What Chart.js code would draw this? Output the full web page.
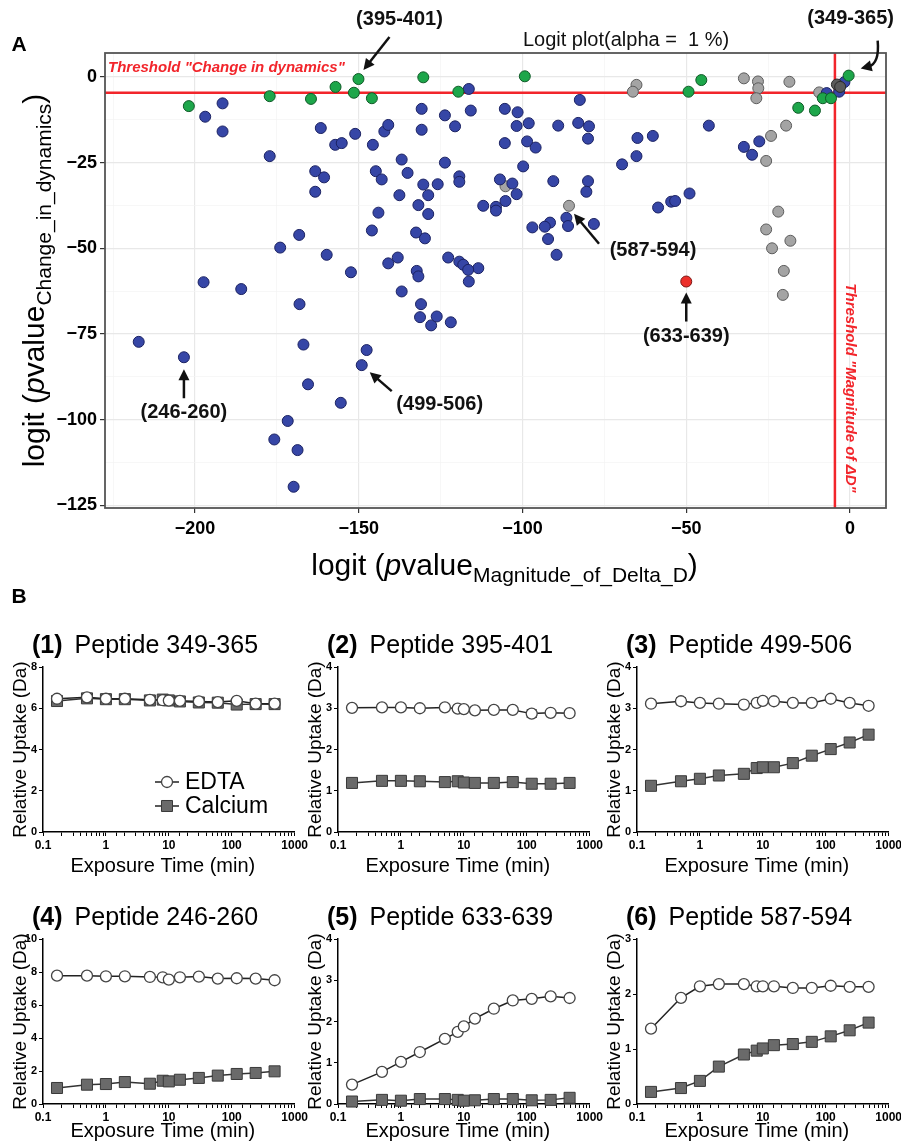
<!DOCTYPE html>
<html>
<head>
<meta charset="utf-8">
<script src="https://cdn.jsdelivr.net/npm/chart.js"></script>
<style>
  html, body { margin: 0; padding: 0; background: #fff; }
  #wrap { position: relative; width: 901px; height: 1144px; overflow: hidden; }
  canvas { position: absolute; }
</style>
</head>
<body>
<div id="wrap">
  <canvas id="logit" width="901" height="615" style="left:0;top:0;width:901px;height:615px"></canvas>
  <canvas id="p1" width="310" height="255" style="left:0;top:625px;width:310px;height:255px"></canvas>
  <canvas id="p2" width="310" height="255" style="left:295px;top:625px;width:310px;height:255px"></canvas>
  <canvas id="p3" width="310" height="255" style="left:594px;top:625px;width:310px;height:255px"></canvas>
  <canvas id="p4" width="310" height="247" style="left:0;top:897px;width:310px;height:247px"></canvas>
  <canvas id="p5" width="310" height="247" style="left:295px;top:897px;width:310px;height:247px"></canvas>
  <canvas id="p6" width="310" height="247" style="left:594px;top:897px;width:310px;height:247px"></canvas>
</div>
<script>
// ---- panel A: logit plot, [logit p magnitude, logit p dynamics] per peptide ----
const THRESHOLD = -4.6; // logit(0.01)

const grayPoints = [
  [-65.2, -2.3], [-66.3, -4.3], [-105.2, -31.9], [-85.8, -37.6], [-32.4, -0.4], [-28.1, -1.3],
  [-28.0, -3.3], [-28.6, -6.2], [-18.5, -1.4], [-9.4, -4.5], [-19.5, -14.2], [-24.1, -17.2],
  [-25.6, -24.5], [-21.9, -39.3], [-25.6, -44.5], [-18.2, -47.8], [-23.8, -50.0], [-20.2, -56.6],
  [-20.5, -63.6]
];
const darkPoints = [[-4.0, -2.2], [-3.0, -2.9]];
const greenPoints = [
  [-201.9, -8.5], [-177.2, -5.6], [-164.6, -6.4], [-157.1, -2.9], [-150.1, -0.6], [-151.5, -4.6],
  [-146.0, -6.2], [-130.3, -0.1], [-119.6, -4.3], [-99.3, 0.2], [-45.4, -0.9], [-49.3, -4.3],
  [-15.8, -9.0], [-10.7, -9.8], [-8.3, -6.2], [-5.8, -6.2], [-0.4, 0.4]
];
const redPoints = [[-50.0, -59.7]];
const bluePoints = [
  [-196.9, -11.6], [-191.6, -7.7], [-191.6, -15.9], [-177.2, -23.1], [-161.6, -14.9], [-163.3, -27.5],
  [-160.6, -29.3], [-163.3, -33.5], [-157.2, -19.8], [-155.2, -19.3], [-151.1, -16.6], [-145.7, -19.8],
  [-144.8, -27.5], [-143.0, -29.9], [-144.0, -39.6], [-146.0, -44.8], [-142.2, -15.9], [-141.0, -14.0],
  [-174.0, -49.8], [-168.2, -46.1], [-159.8, -51.9], [-152.4, -57.0], [-141.0, -54.4], [-197.4, -59.9],
  [-185.9, -61.9], [-217.2, -77.3], [-203.4, -81.8], [-168.1, -66.3], [-166.9, -78.1], [-165.5, -89.7],
  [-171.7, -100.4], [-175.8, -105.8], [-168.7, -108.9], [-169.9, -119.6], [-155.5, -95.1], [-147.6, -79.7],
  [-149.1, -84.1],
  [-116.4, -3.5], [-82.5, -6.7], [-130.8, -9.3], [-130.8, -15.4], [-123.7, -11.2], [-120.6, -14.4],
  [-115.8, -9.8], [-105.4, -9.3], [-101.5, -10.3], [-101.8, -14.3], [-98.1, -13.5], [-105.4, -19.3],
  [-98.6, -18.8], [-96.0, -20.6], [-89.1, -14.2], [-83.0, -13.4], [-79.7, -14.4], [-80.0, -18.0],
  [-64.9, -17.8], [-60.2, -17.2], [-65.2, -23.1], [-69.6, -25.5], [-136.9, -24.1], [-135.1, -28.0],
  [-123.7, -25.0], [-137.6, -34.5], [-130.3, -31.4], [-125.9, -31.3], [-128.8, -34.5], [-119.3, -29.0],
  [-119.3, -30.6], [-131.8, -37.4], [-128.8, -40.0], [-106.9, -29.9], [-103.1, -31.1], [-101.8, -34.2],
  [-105.2, -36.2], [-108.1, -37.9], [-112.0, -37.6], [-108.1, -39.0], [-99.8, -26.1], [-90.6, -30.4],
  [-80.0, -30.4], [-80.5, -33.5], [-86.6, -41.1], [-86.1, -43.5], [-78.2, -42.9], [-91.6, -42.5],
  [-93.2, -43.7], [-97.0, -43.9], [-92.2, -47.3], [-89.6, -51.9], [-132.5, -45.4], [-129.8, -47.1],
  [-58.6, -38.1], [-54.6, -36.4], [-53.4, -36.2], [-138.1, -52.7], [-122.7, -52.7], [-119.3, -53.9],
  [-118.1, -54.8], [-113.5, -55.8], [-116.6, -56.3], [-132.3, -56.6], [-131.8, -58.2],
  [-116.4, -59.7], [-136.9, -62.6], [-131.0, -66.3], [-131.3, -70.1], [-127.9, -72.5], [-126.2, -69.9],
  [-121.9, -71.6],
  [-49.0, -34.0], [-43.1, -14.2], [-27.7, -18.8], [-32.4, -20.4], [-29.9, -22.7], [-7.1, -4.7],
  [-3.3, -4.3], [-1.7, -1.5]
];

// labelled peptides: anchor point in data units, arrow / label offsets in px
const callouts = [
  { text: '(395-401)', at: [-150.1, -0.6], head: [5, -9], tail: [31, -42], label: [41, -60] },
  { text: '(349-365)', at: [-0.4, 0.4], head: [12, -7], tail: [29, -35], bend: [31, -12], label: [2, -57] },
  { text: '(587-594)', at: [-85.8, -37.6], head: [5, 8], tail: [30, 38], label: [84, 45] },
  { text: '(633-639)', at: [-50.0, -59.7], head: [0, 11], tail: [0, 40], label: [0, 55] },
  { text: '(246-260)', at: [-203.4, -81.8], head: [0, 12], tail: [0, 41], label: [0, 55] },
  { text: '(499-506)', at: [-149.1, -84.1], head: [8, 7], tail: [30, 26], label: [78, 39] }
];

// ---- panel B: deuterium uptake curves ----
const TIMES = [0.167, 0.5, 1, 2, 5, 8, 10, 15, 30, 60, 120, 240, 480];

const edta349 = [6.46, 6.53, 6.46, 6.46, 6.41, 6.39, 6.37, 6.36, 6.33, 6.30, 6.36, 6.22, 6.22];
const calcium349 = [6.35, 6.48, 6.44, 6.44, 6.38, 6.42, 6.38, 6.33, 6.28, 6.27, 6.18, 6.20, 6.20];
const edta395 = [3.01, 3.02, 3.02, 3.00, 3.02, 2.99, 2.98, 2.95, 2.96, 2.96, 2.87, 2.89, 2.88];
const calcium395 = [1.19, 1.24, 1.24, 1.23, 1.21, 1.23, 1.20, 1.19, 1.19, 1.21, 1.17, 1.17, 1.19];
const edta499 = [3.11, 3.17, 3.13, 3.11, 3.09, 3.13, 3.18, 3.17, 3.13, 3.13, 3.23, 3.13, 3.06];
const calcium499 = [1.12, 1.23, 1.29, 1.37, 1.41, 1.55, 1.57, 1.57, 1.67, 1.85, 2.01, 2.17, 2.36];
const edta246 = [7.78, 7.78, 7.74, 7.74, 7.70, 7.68, 7.54, 7.68, 7.72, 7.60, 7.62, 7.60, 7.50];
const calcium246 = [0.97, 1.17, 1.21, 1.33, 1.23, 1.41, 1.37, 1.47, 1.58, 1.72, 1.82, 1.88, 1.98];
const edta633 = [0.47, 0.78, 1.02, 1.26, 1.58, 1.75, 1.88, 2.07, 2.31, 2.51, 2.55, 2.61, 2.57];
const calcium633 = [0.06, 0.10, 0.08, 0.12, 0.12, 0.10, 0.08, 0.09, 0.12, 0.12, 0.09, 0.10, 0.15];
const edta587 = [1.37, 1.93, 2.14, 2.18, 2.18, 2.14, 2.14, 2.14, 2.11, 2.11, 2.15, 2.13, 2.13];
const calcium587 = [0.22, 0.29, 0.42, 0.68, 0.90, 0.97, 1.01, 1.07, 1.09, 1.13, 1.23, 1.34, 1.48];

// visible EDTA error bars (half width, Da), 0 = hidden behind marker
const edtaErr395 = [0, 0, 0, 0, 0, 0, 0, 0, 0, 0, 0.09, 0, 0];
const edtaErr499 = [0, 0.08, 0, 0, 0, 0, 0, 0, 0, 0, 0, 0, 0.07];

const FONT = "'Liberation Sans', Arial, Helvetica, sans-serif";
Chart.defaults.font.family = FONT;
Chart.defaults.color = '#000';
Chart.defaults.animation = false;

const RED = '#f2252b';

function pts(arr) {
  return arr.map(p => ({ x: p[0], y: p[1] }));
}

function minus(v) {
  return v < 0 ? '\u2212' + Math.abs(v) : String(v);
}

// draws a run of text pieces with their own font / baseline shift, centred on x
function drawRich(ctx, parts, x, y) {
  let total = 0;
  parts.forEach(p => { ctx.font = p.font; total += ctx.measureText(p.t).width; });
  let cx = x - total / 2;
  ctx.textAlign = 'left';
  ctx.textBaseline = 'alphabetic';
  parts.forEach(p => {
    ctx.font = p.font;
    ctx.fillText(p.t, cx, y + (p.dy || 0));
    cx += ctx.measureText(p.t).width;
  });
}

function drawArrow(ctx, tx, ty, hx, hy, bend) {
  let dx, dy;
  if (bend) { dx = hx - bend[0]; dy = hy - bend[1]; } else { dx = hx - tx; dy = hy - ty; }
  const ang = Math.atan2(dy, dx), L = 11, W = 5.5;
  const ex = hx - 8 * Math.cos(ang), ey = hy - 8 * Math.sin(ang);
  ctx.beginPath();
  ctx.moveTo(tx, ty);
  if (bend) ctx.quadraticCurveTo(bend[0], bend[1], ex, ey); else ctx.lineTo(ex, ey);
  ctx.stroke();
  ctx.beginPath();
  ctx.moveTo(hx, hy);
  ctx.lineTo(hx - L * Math.cos(ang) + W * Math.sin(ang), hy - L * Math.sin(ang) - W * Math.cos(ang));
  ctx.lineTo(hx - L * Math.cos(ang) - W * Math.sin(ang), hy - L * Math.sin(ang) + W * Math.cos(ang));
  ctx.closePath();
  ctx.fill();
}

const logitDecor = {
  id: 'logitDecor',
  afterDatasetsDraw(chart) {
    const { ctx, chartArea: a } = chart;
    ctx.save();
    ctx.strokeStyle = '#555';
    ctx.lineWidth = 1.8;
    ctx.strokeRect(a.left, a.top, a.right - a.left, a.bottom - a.top);
    ctx.restore();
  },
  afterDraw(chart) {
    const { ctx, chartArea: a, scales: { x, y } } = chart;
    ctx.save();

    // threshold captions
    ctx.fillStyle = RED;
    ctx.font = 'italic bold 15px ' + FONT;
    ctx.textAlign = 'left';
    ctx.textBaseline = 'middle';
    ctx.fillText('Threshold "Change in dynamics"', a.left + 3, y.getPixelForValue(THRESHOLD) - 25);
    ctx.save();
    ctx.translate(x.getPixelForValue(0), a.bottom - 120);
    ctx.rotate(Math.PI / 2);
    ctx.textAlign = 'center';
    ctx.fillText('Threshold "Magnitude of \u0394D"', 0, 0);
    ctx.restore();

    // title
    ctx.fillStyle = '#111';
    ctx.font = '20px ' + FONT;
    ctx.textAlign = 'center';
    ctx.fillText('Logit plot(alpha =  1 %)', a.left + 521, a.top - 13);

    // panel letters
    ctx.font = 'bold 21px ' + FONT;
    ctx.fillStyle = '#000';
    ctx.fillText('A', 19, 45);
    ctx.fillText('B', 19, 597);

    // axis titles
    const big = '30px ' + FONT, bigIt = 'italic 30px ' + FONT, sub = '21px ' + FONT;
    drawRich(ctx, [
      { t: 'logit (', font: big }, { t: 'p', font: bigIt }, { t: 'value', font: big },
      { t: 'Magnitude_of_Delta_D', font: sub, dy: 7 }, { t: ')', font: big }
    ], (a.left + a.right) / 2 + 9, a.bottom + 67);
    ctx.save();
    ctx.translate(44, (a.top + a.bottom) / 2);
    ctx.rotate(-Math.PI / 2);
    drawRich(ctx, [
      { t: 'logit (', font: big }, { t: 'p', font: bigIt }, { t: 'value', font: big },
      { t: 'Change_in_dynamics', font: sub, dy: 7 }, { t: ')', font: big }
    ], 0, 0);
    ctx.restore();

    // callouts
    ctx.strokeStyle = '#111';
    ctx.fillStyle = '#111';
    ctx.lineWidth = 2.5;
    ctx.font = 'bold 20px ' + FONT;
    callouts.forEach(c => {
      const px = x.getPixelForValue(c.at[0]), py = y.getPixelForValue(c.at[1]);
      const bend = c.bend ? [px + c.bend[0], py + c.bend[1]] : null;
      drawArrow(ctx, px + c.tail[0], py + c.tail[1], px + c.head[0], py + c.head[1], bend);
      ctx.textAlign = 'center';
      ctx.textBaseline = 'middle';
      ctx.fillText(c.text, px + c.label[0], py + c.label[1]);
    });
    ctx.restore();
  }
};

const X_MIN = -227.5, X_MAX = 11, Y_MIN = -125.8, Y_MAX = 7;

new Chart(document.getElementById('logit'), {
  type: 'scatter',
  data: {
    datasets: [
      { label: 'dynamics threshold', data: [{ x: X_MIN, y: THRESHOLD }, { x: X_MAX, y: THRESHOLD }],
        showLine: true, borderColor: RED, borderWidth: 2.5, pointRadius: 0, order: 10 },
      { label: 'magnitude threshold', data: [{ x: THRESHOLD, y: Y_MIN }, { x: THRESHOLD, y: Y_MAX }],
        showLine: true, borderColor: RED, borderWidth: 2.5, pointRadius: 0, order: 10 },
      { label: 'not significant', data: pts(grayPoints), backgroundColor: '#a4a4a4', borderColor: '#5c5c5c',
        borderWidth: 1, pointRadius: 5.5, order: 5 },
      { label: 'both', data: pts(bluePoints), backgroundColor: '#3646a6', borderColor: '#1b2262',
        borderWidth: 1, pointRadius: 5.5, order: 4 },
      { label: 'magnitude only', data: pts(greenPoints), backgroundColor: '#1da64a', borderColor: '#0f5a27',
        borderWidth: 1, pointRadius: 5.5, order: 3 },
      { label: 'dynamics only', data: pts(redPoints), backgroundColor: '#ec2f2a', borderColor: '#7a1412',
        borderWidth: 1, pointRadius: 5.5, order: 2 },
      { label: 'reference', data: pts(darkPoints), backgroundColor: '#5a5a5a', borderColor: '#2a2a2a',
        borderWidth: 1, pointRadius: 5.5, order: 1 }
    ]
  },
  options: {
    responsive: false,
    devicePixelRatio: 1,
    layout: { padding: { top: 53, right: 15, left: 0, bottom: 0 } },
    plugins: { legend: { display: false }, tooltip: { enabled: false } },
    scales: {
      x: {
        type: 'linear', min: X_MIN, max: X_MAX,
        afterFit: s => { s.height = 107; },
        ticks: {
          stepSize: 25, includeBounds: false, autoSkip: false, maxRotation: 0, padding: 5,
          font: { size: 18, weight: 'bold' }, color: '#000',
          callback: v => (v % 50 === 0 ? minus(v) : '')
        },
        grid: {
          color: c => (c.tick && c.tick.value % 50 === 0 ? '#e8e8e8' : '#f3f3f3'),
          lineWidth: c => (c.tick && c.tick.value % 50 === 0 ? 1.2 : 0.7),
          tickLength: 5,
          tickColor: c => (c.tick && c.tick.value % 50 === 0 ? '#333' : 'rgba(0,0,0,0)')
        },
        border: { display: false }
      },
      y: {
        type: 'linear', min: Y_MIN, max: Y_MAX,
        afterFit: s => { s.width = 105; },
        ticks: {
          stepSize: 12.5, includeBounds: false, autoSkip: false, padding: 3,
          font: { size: 18, weight: 'bold' }, color: '#000',
          callback: v => (v % 25 === 0 ? minus(v) : '')
        },
        grid: {
          color: c => (c.tick && c.tick.value % 25 === 0 ? '#e8e8e8' : '#f3f3f3'),
          lineWidth: c => (c.tick && c.tick.value % 25 === 0 ? 1.2 : 0.7),
          tickLength: 5,
          tickColor: c => (c.tick && c.tick.value % 25 === 0 ? '#333' : 'rgba(0,0,0,0)')
        },
        border: { display: false }
      }
    }
  },
  plugins: [logitDecor]
});

// ---- small uptake panels ----
const EDTA_STYLE = { pointStyle: 'circle', pointRadius: 5.5, pointBackgroundColor: '#fff', pointBorderColor: '#444', pointBorderWidth: 1.3, borderColor: '#222' };
const CA_STYLE = { pointStyle: 'rect', pointRadius: 7.8, pointBackgroundColor: '#6a6a6a', pointBorderColor: '#3a3a3a', pointBorderWidth: 1, borderColor: '#333' };

function isDecade(v) {
  const l = Math.log10(v);
  return Math.abs(l - Math.round(l)) < 1e-6;
}

function marker(ctx, style, x, y) {
  ctx.fillStyle = style.pointBackgroundColor;
  ctx.strokeStyle = style.pointBorderColor;
  ctx.lineWidth = style.pointBorderWidth;
  ctx.beginPath();
  if (style.pointStyle === 'circle') {
    ctx.arc(x, y, style.pointRadius, 0, Math.PI * 2);
  } else {
    const h = style.pointRadius * Math.SQRT1_2;
    ctx.rect(x - h, y - h, 2 * h, 2 * h);
  }
  ctx.fill();
  ctx.stroke();
}

const panelDecor = {
  id: 'panelDecor',
  // error bars go under the markers
  beforeDatasetsDraw(chart, args, o) {
    if (!o.err) return;
    const { ctx, scales: { x, y } } = chart;
    const ds = chart.data.datasets[0].data;
    ctx.save();
    ctx.strokeStyle = '#222';
    ctx.lineWidth = 1.3;
    o.err.forEach((e, i) => {
      if (!e) return;
      const px = x.getPixelForValue(ds[i].x);
      const top = y.getPixelForValue(ds[i].y + e), bot = y.getPixelForValue(ds[i].y - e);
      ctx.beginPath();
      ctx.moveTo(px, top); ctx.lineTo(px, bot);
      ctx.moveTo(px - 5, top); ctx.lineTo(px + 5, top);
      ctx.moveTo(px - 5, bot); ctx.lineTo(px + 5, bot);
      ctx.stroke();
    });
    ctx.restore();
  },
  afterDraw(chart, args, o) {
    const { ctx, chartArea: a } = chart;
    ctx.save();
    ctx.fillStyle = '#000';
    ctx.textBaseline = 'middle';
    ctx.textAlign = 'left';
    ctx.font = 'bold 25px ' + FONT;
    const tag = '(' + o.num + ')';
    ctx.fillText(tag, a.left - 11, a.top - 21);
    const w = ctx.measureText(tag).width;
    ctx.font = '25px ' + FONT;
    ctx.fillText('Peptide ' + o.peptide, a.left - 11 + w + 12, a.top - 21);

    ctx.font = '20px ' + FONT;
    ctx.textAlign = 'center';
    ctx.fillText('Exposure Time (min)', (a.left + a.right) / 2 - 6, a.bottom + o.xTitleGap);
    ctx.save();
    ctx.translate(a.left - 22, (a.top + a.bottom) / 2);
    ctx.rotate(-Math.PI / 2);
    ctx.font = '19px ' + FONT;
    ctx.fillText('Relative Uptake (Da)', 0, 0);
    ctx.restore();

    if (o.legend) {
      const lx = a.left + 124;
      [[EDTA_STYLE, 'EDTA', a.top + 115], [CA_STYLE, 'Calcium', a.top + 139]].forEach(([st, txt, ly]) => {
        ctx.strokeStyle = '#222';
        ctx.lineWidth = 1.5;
        ctx.beginPath(); ctx.moveTo(lx - 12, ly); ctx.lineTo(lx + 12, ly); ctx.stroke();
        marker(ctx, st, lx, ly);
        ctx.fillStyle = '#000';
        ctx.font = '23px ' + FONT;
        ctx.textAlign = 'left';
        ctx.fillText(txt, lx + 18, ly + 1);
      });
    }
    ctx.restore();
  }
};

function uptakePanel(id, num, peptide, yMax, yStep, edta, calcium, row, err) {
  const bottomH = row === 1 ? 48 : 40;
  return new Chart(document.getElementById(id), {
    type: 'scatter',
    data: {
      datasets: [
        Object.assign({ label: 'EDTA', data: TIMES.map((t, i) => ({ x: t, y: edta[i] })), showLine: true, borderWidth: 1.5, clip: false }, EDTA_STYLE),
        Object.assign({ label: 'Calcium', data: TIMES.map((t, i) => ({ x: t, y: calcium[i] })), showLine: true, borderWidth: 1.5, clip: false }, CA_STYLE)
      ]
    },
    options: {
      responsive: false,
      devicePixelRatio: 1,
      layout: { padding: { top: 42, right: 15, left: 0, bottom: 0 } },
      plugins: {
        legend: { display: false }, tooltip: { enabled: false },
        panelDecor: { num: num, peptide: peptide, xTitleGap: row === 1 ? 34 : 27, legend: num === 1, err: err || null }
      },
      scales: {
        x: {
          type: 'logarithmic', min: 0.1, max: 1000,
          afterFit: s => { s.height = bottomH; },
          ticks: { autoSkip: false, maxRotation: 0, padding: 2, font: { size: 12, weight: 'bold' },
                   callback: v => (isDecade(v) ? String(v) : '') },
          grid: { drawOnChartArea: false, tickLength: 4, tickColor: '#000', tickWidth: 1 },
          border: { color: '#000', width: 1.5 }
        },
        y: {
          type: 'linear', min: 0, max: yMax,
          afterFit: s => { s.width = 43; },
          ticks: { stepSize: yStep, padding: 2, font: { size: 11, weight: 'bold' } },
          grid: { drawOnChartArea: false, tickLength: 4, tickColor: '#000', tickWidth: 1 },
          border: { color: '#000', width: 1.5 }
        }
      }
    },
    plugins: [panelDecor]
  });
}

uptakePanel('p1', 1, '349-365', 8, 2, edta349, calcium349, 1);
uptakePanel('p2', 2, '395-401', 4, 1, edta395, calcium395, 1, edtaErr395);
uptakePanel('p3', 3, '499-506', 4, 1, edta499, calcium499, 1, edtaErr499);
uptakePanel('p4', 4, '246-260', 10, 2, edta246, calcium246, 2);
uptakePanel('p5', 5, '633-639', 4, 1, edta633, calcium633, 2);
uptakePanel('p6', 6, '587-594', 3, 1, edta587, calcium587, 2);
</script>
</body>
</html>
